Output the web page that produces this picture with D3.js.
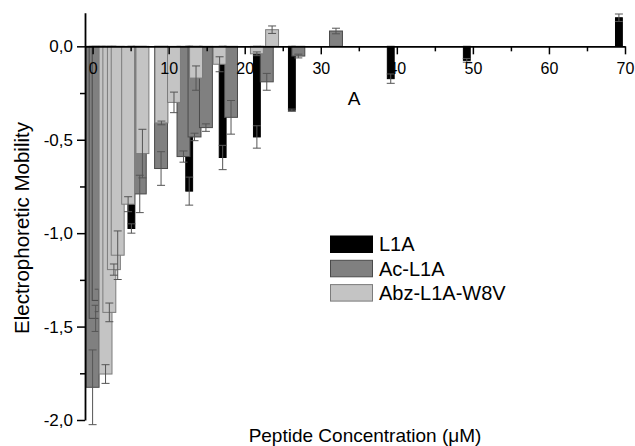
<!DOCTYPE html>
<html>
<head>
<meta charset="utf-8">
<script src="https://cdn.jsdelivr.net/npm/d3@7"></script>
<style>
  html, body { margin: 0; padding: 0; background: #fff; }
  svg { display: block; font-family: "Liberation Sans", Arial, sans-serif; }
</style>
</head>
<body>
<svg id="chart" width="635" height="446"></svg>
<script>
// Peptide concentration (µM), electrophoretic mobility and its error for each peptide
const l1aConc = [5.1, 12.7, 17.1, 21.6, 26.2, 39.2, 49.2, 69.2];
const l1aMob  = [-0.975, -0.775, -0.595, -0.485, -0.342, -0.173, -0.075, 0.153];
const l1aErr  = [0.025, 0.075, 0.065, 0.06, 0.006, 0.025, 0.01, 0.02];

const acConc = [0, 0.4, 0.8, 2.2, 6.2, 9.0, 11.95, 13.4, 14.9, 18.2, 22.9, 27.05, 32.0];
const acMob  = [-1.825, -1.456, -1.36, -1.2, -0.79, -0.654, -0.59, -0.485, -0.435, -0.38, -0.19, -0.052, 0.082];
const acErr  = [0.2, 0.07, 0.06, 0.06, 0.1, 0.09, 0.03, 0.02, 0.02, 0.09, 0.045, 0.01, 0.015];

const abzConc = [1.7, 2.2, 2.8, 3.3, 4.67, 6.55, 9.05, 10.7, 13.6, 16.7, 21.6, 23.6];
const abzMob  = [-1.754, -1.424, -1.195, -1.118, -0.845, -0.574, -0.41, -0.30, -0.17, -0.096, -0.04, 0.089];
const abzErr  = [0.05, 0.05, 0.03, 0.13, 0.04, 0.13, 0.01, 0.055, 0.065, 0.04, 0.01, 0.02];

const seriesNames = ["L1A", "Ac-L1A", "Abz-L1A-W8V"];
const xTicks = [0, 10, 20, 30, 40, 50, 60, 70];
const yTicks = [-2, -1.5, -1, -0.5, 0];

const svg = d3.select("#chart");
const x = d3.scaleLinear().domain([-1, 70]).range([85, 625]);
const y = d3.scaleLinear().domain([-2, 0.18]).range([420, 12.7]);

const series = [
  { name: seriesNames[0], conc: l1aConc, mob: l1aMob, err: l1aErr, width: 0.9, fill: "#000000", stroke: "#000000" },
  { name: seriesNames[1], conc: acConc,  mob: acMob,  err: acErr,  width: 1.7, fill: "#808080", stroke: "#4a4a4a" },
  { name: seriesNames[2], conc: abzConc, mob: abzMob, err: abzErr, width: 1.7, fill: "#c4c4c4", stroke: "#7c7c7c" }
];

// Bars with their error bars, one series after another
series.forEach(s => {
  const data = s.conc.map((c, i) => ({ c, v: s.mob[i], e: s.err[i] }));
  const g = svg.append("g");
  g.selectAll("rect").data(data).join("rect")
    .attr("x", d => x(d.c - s.width / 2))
    .attr("width", d => x(d.c + s.width / 2) - x(d.c - s.width / 2))
    .attr("y", d => Math.min(y(d.v), y(0)))
    .attr("height", d => Math.abs(y(d.v) - y(0)))
    .attr("fill", s.fill)
    .attr("stroke", s.stroke)
    .attr("stroke-width", 1);

  const eg = g.selectAll("g.err").data(data).join("g").attr("class", "err")
    .attr("stroke", "#555").attr("stroke-width", 1).attr("fill", "none");
  eg.append("line")
    .attr("x1", d => x(d.c)).attr("x2", d => x(d.c))
    .attr("y1", d => y(d.v - d.e)).attr("y2", d => y(d.v + d.e));
  eg.append("line")
    .attr("x1", d => x(d.c) - 4).attr("x2", d => x(d.c) + 4)
    .attr("y1", d => y(d.v - d.e)).attr("y2", d => y(d.v - d.e));
  eg.append("line")
    .attr("x1", d => x(d.c) - 4).attr("x2", d => x(d.c) + 4)
    .attr("y1", d => y(d.v + d.e)).attr("y2", d => y(d.v + d.e));
});

const fmt = d => d.toFixed(1).replace(".", ",");

// Y axis: major ticks with labels, minor ticks between them
const yMinor = svg.append("g").attr("transform", `translate(${x(-1)},0)`)
  .call(d3.axisLeft(y).tickValues(d3.range(-1.75, 0.1, 0.5)).tickSize(5).tickSizeOuter(0).tickFormat(""));
yMinor.select(".domain").remove();
yMinor.selectAll("line").attr("stroke-width", 1.5);

const yAxis = svg.append("g").attr("transform", `translate(${x(-1)},0)`)
  .call(d3.axisLeft(y).tickValues(yTicks).tickSize(8).tickSizeOuter(0).tickPadding(4).tickFormat(fmt));
yAxis.select(".domain").attr("stroke-width", 1.8);
yAxis.selectAll("line").attr("stroke-width", 1.5);
yAxis.selectAll("text").attr("font-size", 17).attr("font-family", "Liberation Sans, Arial, sans-serif").attr("fill", "#000");

// X axis along zero mobility, ticks pointing into the plot
const xMinor = svg.append("g").attr("transform", `translate(0,${y(0)})`)
  .call(d3.axisBottom(x).tickValues(d3.range(5, 70, 10)).tickSize(5).tickSizeOuter(0).tickFormat(""));
xMinor.select(".domain").remove();
xMinor.selectAll("line").attr("stroke-width", 1.5);

const xAxis = svg.append("g").attr("transform", `translate(0,${y(0)})`)
  .call(d3.axisBottom(x).tickValues(xTicks).tickSize(8).tickSizeOuter(0).tickPadding(8).tickFormat(d3.format("d")));
xAxis.select(".domain").attr("stroke-width", 1.6);
xAxis.selectAll("line").attr("stroke-width", 1.5);
xAxis.selectAll("text").attr("font-size", 16).attr("font-family", "Liberation Sans, Arial, sans-serif").attr("fill", "#000");

// Axis titles and panel letter
svg.append("text")
  .attr("x", 365).attr("y", 442)
  .attr("text-anchor", "middle").attr("font-size", 19)
  .text("Peptide Concentration (\u03BCM)");

svg.append("text")
  .attr("transform", "translate(29,228) rotate(-90)")
  .attr("text-anchor", "middle").attr("font-size", 20.5)
  .text("Electrophoretic Mobility");

svg.append("text")
  .attr("x", 354).attr("y", 105)
  .attr("text-anchor", "middle").attr("font-size", 19)
  .text("A");

// Legend
const legend = svg.append("g").attr("transform", "translate(330,236)");
series.forEach((s, i) => {
  const row = legend.append("g").attr("transform", `translate(0,${i * 24.3})`);
  row.append("rect").attr("x", 0.5).attr("y", 0).attr("width", 42).attr("height", 16.5)
    .attr("fill", s.fill).attr("stroke", s.stroke).attr("stroke-width", 1);
  row.append("text").attr("x", 49).attr("y", 15.3).attr("font-size", 20).text(s.name);
});
</script>
</body>
</html>
